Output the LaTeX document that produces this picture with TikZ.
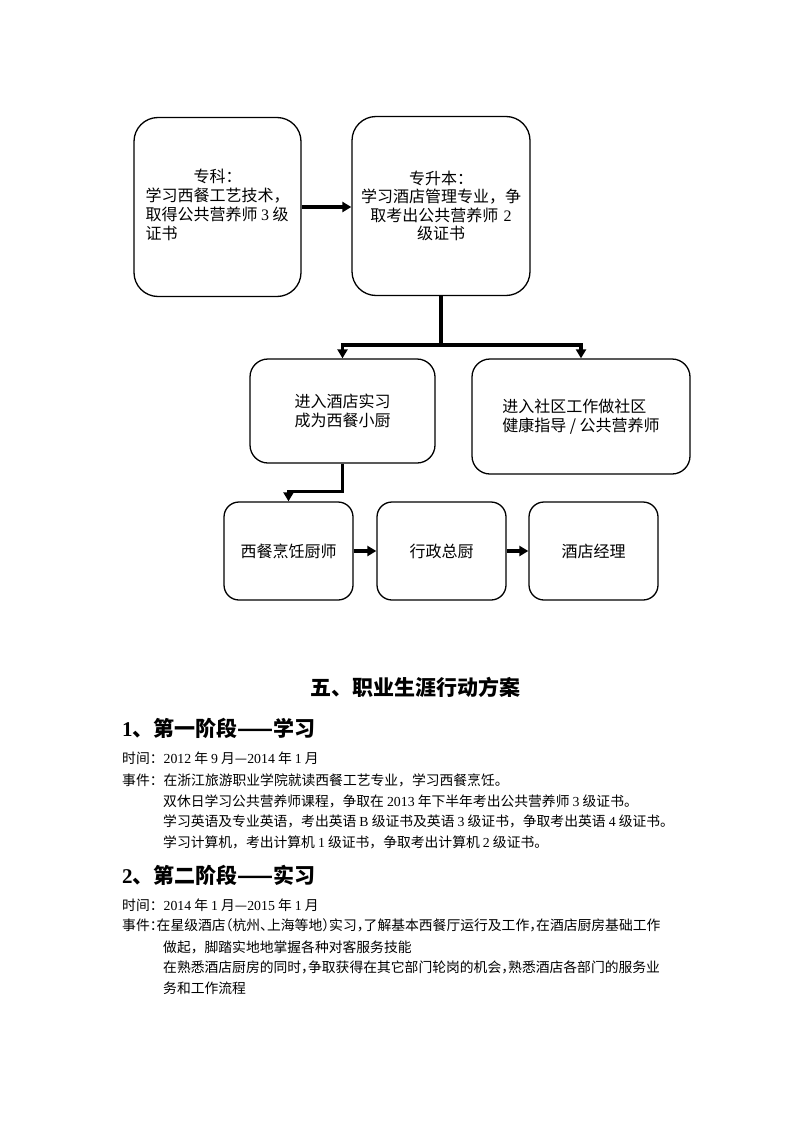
\documentclass[tikz,border=0pt]{standalone}
\usepackage{fontspec}
\setmainfont{Liberation Serif}
\newfontfamily\cjk{Noto Sans CJK SC}
\newfontfamily\cjkh[RawFeature=+halt]{Noto Sans CJK SC}
\newcommand\en[1]{{\rmfamily #1}}
\usetikzlibrary{arrows.meta}

\begin{document}
\begin{tikzpicture}[x=1pt, y=-1pt,
  box/.style={draw, line width=1.3pt, rounded corners=18pt, align=center, inner sep=0pt,
              font=\cjk\fontsize{16}{19.5}\selectfont},
  bigbox/.style={box, rounded corners=24pt, minimum height=179pt,
                 font=\cjk\fontsize{16}{18.3}\selectfont},
  smallbox/.style={box, rounded corners=15pt, minimum width=129pt, minimum height=98pt},
  arr/.style={line width=3.2pt, -{Triangle[length=9pt,width=10pt]}},
  conn/.style={line width=3.2pt, line cap=rect},
  txt/.style={anchor=base west, inner sep=0pt, font=\cjk\fontsize{13.8}{16}\selectfont},
  head/.style={anchor=base west, inner sep=0pt, font=\cjk\bfseries\fontsize{21}{24}\selectfont}]
\useasboundingbox (0,0) rectangle (800,1132);

\node[bigbox, minimum width=167pt] (A) at (217.5,207)
  {\begin{tabular}{@{}l@{}}\multicolumn{1}{@{}c@{}}{专科：}\\学习西餐工艺技术，\\取得公共营养师 \en{3} 级\\证书\end{tabular}};
\node[bigbox, minimum width=178pt, text width=170pt] (B) at (441,206)
  {专升本：\\学习酒店管理专业，争\\取考出公共营养师 \en{2}\\级证书};
\node[box, minimum width=185pt, minimum height=104pt] (C) at (342.5,411)
  {进入酒店实习\\成为西餐小厨};
\node[box, minimum width=218pt, minimum height=115pt, align=left] (D) at (581,416.5)
  {进入社区工作做社区\\健康指导 / 公共营养师};
\node[smallbox] (E) at (288.5,551) {西餐烹饪厨师};
\node[smallbox] (F) at (441.5,551) {行政总厨};
\node[smallbox] (G) at (593.5,551) {酒店经理};

\coordinate (split) at (441,345);
\draw[arr] (A.east) -- (A.east -| B.west);
\draw[conn] (B.south) -- (split);
\draw[arr] (split) -| (C.north);
\draw[arr] (split) -| (D.north);
\draw[arr] (C.south) -- ++(0,28) -| (E.north);
\draw[arr] (E) -- (F);
\draw[arr] (F) -- (G);

\node[head, anchor=base] (title) at (415,695) {五、职业生涯行动方案};
\node[head] (H1) at (122,736) {\en{\bfseries 1}、第一阶段——学习};
\node[txt] (S1a) at (122,763) {时间：\en{2012} 年 \en{9} 月—\en{2014} 年 \en{1} 月};
\node[txt] (S1b) at (122,785) {事件：在浙江旅游职业学院就读西餐工艺专业，学习西餐烹饪。};
\node[txt] (S1c) at (163,806) {双休日学习公共营养师课程，争取在 \en{2013} 年下半年考出公共营养师 \en{3} 级证书。};
\node[txt] (S1d) at (163,826) {学习英语及专业英语，考出英语 \en{B} 级证书及英语 \en{3} 级证书，争取考出英语 \en{4} 级证书。};
\node[txt] (S1e) at (163,847) {学习计算机，考出计算机 \en{1} 级证书，争取考出计算机 \en{2} 级证书。};

\node[head] (H2) at (122,883) {\en{\bfseries 2}、第二阶段——实习};
\node[txt] (S2a) at (122,910) {时间：\en{2014} 年 \en{1} 月—\en{2015} 年 \en{1} 月};
\node[txt, font=\cjkh\fontsize{13.8}{16}\selectfont] (S2b) at (122,930) {事件：在星级酒店（杭州、上海等地）实习，了解基本西餐厅运行及工作，在酒店厨房基础工作};
\node[txt] (S2c) at (163,952) {做起，脚踏实地地掌握各种对客服务技能};
\node[txt, font=\cjkh\fontsize{13.8}{16}\selectfont] (S2d) at (163,972) {在熟悉酒店厨房的同时，争取获得在其它部门轮岗的机会，熟悉酒店各部门的服务业};
\node[txt] (S2e) at (163,993) {务和工作流程};
\end{tikzpicture}
\end{document}
